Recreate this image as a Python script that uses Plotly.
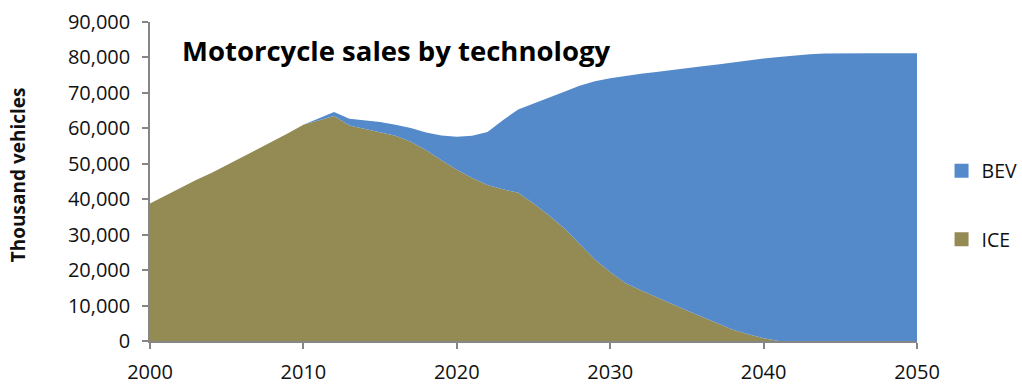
import plotly.graph_objects as go

# Motorcycle sales by technology, thousand vehicles per year
years = list(range(2000, 2051))

ice = [38800, 41000, 43300, 45400, 47400, 49600, 51800, 54000, 56400, 58600,
       61000, 62300, 63500, 60800, 59800, 59000, 57900, 56200, 53800, 51000,
       48300, 46000, 44000, 42800, 41800, 38800, 35500, 31800, 27300, 23000,
       19500, 16300, 14300, 12500, 10500, 8600, 6800, 4900, 3200, 1900,
       800, 0, 0, 0, 0, 0, 0, 0, 0, 0, 0]

bev = [0, 0, 0, 0, 0, 0, 0, 0, 0, 0,
       0, 500, 1100, 1900, 2500, 2800, 3100, 3900, 5000, 7000,
       9300, 11900, 15000, 19500, 23500, 28100, 33000, 38500, 44700, 50300,
       54600, 58500, 61100, 63400, 66000, 68500, 70700, 73100, 75400, 77300,
       78900, 80100, 80600, 80900, 81100, 81200, 81200, 81200, 81200, 81200, 81200]

y_ticks = list(range(0, 90001, 10000))
x_ticks = list(range(2000, 2051, 10))

ICE_COLOR = "#948a54"
BEV_COLOR = "#558aca"
FONT = "Open Sans"
TEXT = "#111111"
TICK_SIZE = 20

fig = go.Figure()
# stacked areas
fig.add_trace(go.Scatter(
    x=years, y=ice, name="ICE", mode="lines", stackgroup="one",
    line=dict(width=0, color=ICE_COLOR), fillcolor=ICE_COLOR, showlegend=False,
))
fig.add_trace(go.Scatter(
    x=years, y=bev, name="BEV", mode="lines", stackgroup="one",
    line=dict(width=0, color=BEV_COLOR), fillcolor=BEV_COLOR, showlegend=False,
))
# square legend keys
for name, color in (("BEV", BEV_COLOR), ("ICE", ICE_COLOR)):
    fig.add_trace(go.Scatter(
        x=[None], y=[None], name=name, mode="markers", legendgroup=name,
        marker=dict(symbol="square", size=14, color=color),
    ))

axis_line = "#868686"
fig.update_layout(
    width=1022, height=386,
    margin=dict(l=150, r=105, t=22, b=45, autoexpand=False),
    plot_bgcolor="white", paper_bgcolor="white",
    font=dict(family=FONT, size=TICK_SIZE, color=TEXT),
    showlegend=True,
    legend=dict(
        x=1.032, xanchor="left", xref="paper", y=0.426, yanchor="middle",
        traceorder="grouped", tracegroupgap=40,
        font=dict(size=19.5, color=TEXT), itemwidth=30,
        bgcolor="rgba(0,0,0,0)",
    ),
    xaxis=dict(
        range=[2000, 2050], tickvals=x_ticks, showgrid=False, zeroline=False,
        showline=True, linecolor=axis_line, linewidth=1.5, automargin=False,
        ticks="outside", ticklen=6, tickcolor=axis_line, tickwidth=1.5,
        tickfont=dict(size=TICK_SIZE, color=TEXT), ticklabelstandoff=6,
    ),
    yaxis=dict(
        range=[0, 90000], tickvals=y_ticks, tickformat=",", showgrid=False,
        zeroline=False, showline=True, linecolor=axis_line, linewidth=1.5,
        automargin=False,
        ticks="outside", ticklen=6, tickcolor=axis_line, tickwidth=1.5,
        tickfont=dict(size=TICK_SIZE, color=TEXT), ticklabelstandoff=8,
    ),
    annotations=[
        dict(
            text="<b>Motorcycle sales by technology</b>",
            xref="paper", yref="paper", x=0.039, y=0.91,
            xanchor="left", yanchor="middle", showarrow=False,
            font=dict(family=FONT, size=27.5, color="#000000"),
        ),
        dict(
            text="<b>Thousand vehicles</b>",
            xref="paper", yref="paper", x=-0.172, y=0.52,
            xanchor="center", yanchor="middle", showarrow=False, textangle=-90,
            font=dict(family=FONT, size=19, color=TEXT),
        ),
    ],
)

fig.write_html("out.html")
